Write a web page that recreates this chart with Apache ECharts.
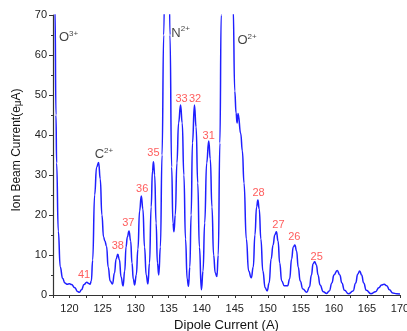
<!DOCTYPE html>
<html><head><meta charset="utf-8">
<script src="https://cdn.jsdelivr.net/npm/echarts@6/dist/echarts.min.js"></script>
<style>html,body{margin:0;padding:0;background:#fff}#c{width:407px;height:331px}</style>
</head><body><div id="c"></div>
<script>
// Dipole current (A)
const dipoleCurrent = [117.5,117.8,117.95,118.05,118.3,118.6,118.95,119.3,119.6,120.0,120.3,120.8,121.2,121.5,121.8,122.2,122.6,122.9,123.1,
 123.3,123.5,123.8,124.1,124.4,124.65,124.9,125.15,125.35,125.6,125.85,126.15,126.5,
 126.8,127.05,127.3,127.55,127.8,128.1,
 128.35,128.55,128.75,129.0,129.25,129.45,129.65,129.85,
 130.1,130.35,130.6,130.86,131.1,131.35,131.6,131.86,
 132.1,132.35,132.55,132.7,132.88,133.1,133.3,133.5,
 133.75,134.0,134.25,134.5,134.75,135.0,135.2,135.45,135.65,135.8,
 136.0,136.25,136.5,136.8,137.05,137.3,137.55,137.8,138.0,
 138.2,138.4,138.6,138.9,139.15,139.4,139.65,139.95,
 140.2,140.45,140.75,141.06,141.3,141.55,141.8,142.05,142.3,
 142.5,142.75,142.95,143.5,144.3,144.75,145.0,145.2,145.35,145.5,145.9,146.15,146.4,146.75,147.1,147.5,
 147.8,148.05,148.3,148.5,148.7,148.95,149.25,149.6,149.9,
 150.2,150.5,150.8,151.05,151.3,151.55,151.8,152.1,152.5,153.0,
 153.3,153.6,153.85,154.1,154.35,154.6,154.9,155.3,155.9,
 156.3,156.6,156.85,157.1,157.35,157.6,157.9,158.4,158.9,
 159.3,159.7,160.0,160.5,160.9,161.2,161.6,162.2,
 162.9,163.3,163.6,163.9,164.2,164.5,164.9,165.6,
 166.3,166.8,167.2,167.6,168.0,168.4,168.9,169.5,170.0];
// Ion beam current (eμA)
const beamCurrent = [110,72,45,33,16,7,4.2,3.0,2.7,2.8,2.6,1.8,0.9,0.7,1.3,2.6,3.2,2.9,2.7,
 3.5,8.7,25,32,33.1,29,20,14.5,13.5,12.2,7,3.5,2.75,
 5.5,9,10.2,8.8,4.5,2.25,
 6,12,14.5,16,13.5,8,4,2.5,
 5,11.5,21,24.75,21.5,12,5,2.75,
 8,22,31,33.3,30,18,8,5,
 12,35,65,95,110,95,65,32,18,15.8,
 20,33,43,47.5,43,30,14,4,2.2,
 7,20,38,47.5,42,28,12,1.3,
 6,18,33,38.5,34,22,10,5.5,4.6,
 10,38,70,120,120,72,51,45.5,43,45.4,40.4,36,28,14,6,4.3,
 7,15,22,23.75,21.5,14,6,1.8,1,
 3,9,12.5,15,15.8,13.5,8,3.5,2.3,2.3,
 4,9,12,12.5,11,7,3.5,1.5,0.7,
 2,5,7.8,8.3,7.5,5,2.5,0.8,0.4,
 1,3,5,6.1,5,3,1.2,0.3,
 1,3,5.2,6,5,3,1.2,0.3,
 0.8,1.8,2.5,2.7,2.3,1.3,0.5,0.3,0.25];

// Charge-state labels (red)
const peakLabels = ['41','38','37','36','35','33','32','31','28','27','26','25'];
const peakLabelX = [122.2,127.3,128.9,131.0,132.7,136.95,139.0,141.06,148.6,151.6,154.0,157.4];
const peakLabelY = [5.0,12.3,18.1,26.5,35.6,49.1,49.1,39.8,25.6,17.5,14.4,9.6];

// Ion species labels (black)
const ionSymbols = ['O','N','O','C'];
const ionCharges = ['3+','2+','2+','2+'];
const ionX = [118.4,135.4,145.4,123.8];
const ionY = [64.4,65.5,63.6,35.1];

const xTicks = [120,125,130,135,140,145,150,155,160,165,170];
const yTicks = [0,10,20,30,40,50,60,70];

const curve = dipoleCurrent.map((x,i)=>[x,beamCurrent[i]]);
const redData = peakLabels.map((t,i)=>[peakLabelX[i],peakLabelY[i],t]);
const ionData = ionSymbols.map((s,i)=>[ionX[i],ionY[i],'{b|'+s+'}{s|'+ionCharges[i]+'}']);

const font = 'Liberation Sans, Arial, sans-serif';
const chart = echarts.init(document.getElementById('c'));
chart.setOption({
  animation:false,
  backgroundColor:'#fff',
  grid:{left:53,right:7,top:15,bottom:36,containLabel:false,outerBoundsMode:'none'},
  xAxis:{type:'value',min:117.5,max:170,interval:2.5,
    name:'Dipole Current (A)',nameLocation:'middle',nameGap:18,
    nameTextStyle:{fontFamily:font,fontSize:13,color:'#111'},
    axisLine:{lineStyle:{color:'#333',width:1.2}},
    axisTick:{length:3,lineStyle:{color:'#333'}},
    axisLabel:{fontFamily:font,fontSize:11,color:'#222',margin:8,
      formatter:v=>xTicks.indexOf(v)>=0?String(v):''},
    splitLine:{show:false}},
  yAxis:{type:'value',min:0,max:70,interval:10,
    name:'Ion Beam Current(e{m|μ}A)',nameLocation:'middle',nameGap:30,
    nameTextStyle:{fontFamily:font,fontSize:12,color:'#111',padding:[0,0,0,10],
      rich:{m:{fontFamily:font,fontSize:10,color:'#111',padding:[3,0,0,0]}}},
    axisLine:{show:true,lineStyle:{color:'#333',width:1.2}},
    axisTick:{length:4,lineStyle:{color:'#333'}},
    minorTick:{show:true,splitNumber:2,length:2,lineStyle:{color:'#333'}},
    axisLabel:{fontFamily:font,fontSize:11,color:'#222',margin:6,
      formatter:v=>yTicks.indexOf(v)>=0?String(v):''},
    splitLine:{show:false}},
  series:[
    {type:'line',data:curve,smooth:0.5,smoothMonotone:'x',symbol:'none',clip:true,
      lineStyle:{color:'#1f1fff',width:1.5}},
    {type:'scatter',data:redData,symbolSize:0,silent:true,
      label:{show:true,position:[0,0],align:'center',verticalAlign:'middle',
        formatter:p=>p.data[2],fontFamily:font,fontSize:11,color:'#ff3333'}},
    {type:'scatter',data:ionData,symbolSize:0,silent:true,
      label:{show:true,position:[0,0],align:'left',verticalAlign:'middle',
        formatter:p=>p.data[2],
        rich:{b:{fontFamily:font,fontSize:13,color:'#111',lineHeight:16},
              s:{fontFamily:font,fontSize:8,color:'#111',verticalAlign:'top',lineHeight:16,padding:[0,0,6,0]}}}}
  ]
});
</script></body></html>
